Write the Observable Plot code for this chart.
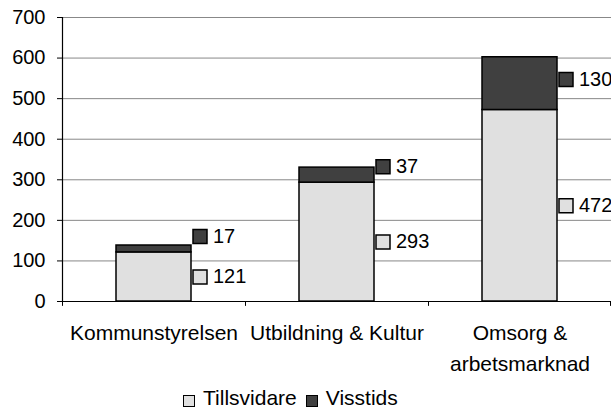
<!DOCTYPE html>
<html><head><meta charset="utf-8">
<script src="https://cdn.jsdelivr.net/npm/d3@7"></script>
<script src="https://cdn.jsdelivr.net/npm/@observablehq/plot@0.6"></script>
<style>
body{margin:0;background:#fff;font-family:"Liberation Sans",Arial,sans-serif;}
#legend{height:29px;line-height:29px;font-size:21px;padding-left:183px;white-space:nowrap;color:#000}
.sw{display:inline-block;width:10px;height:10px;border:1px solid #000;vertical-align:-2px;margin-right:8px}
</style></head><body>
<div id="chart"></div>
<div id="legend"></div>
<script>
const categories = ["Kommunstyrelsen", "Utbildning & Kultur", "Omsorg &\narbetsmarknad"];
const seriesNames = ["Tillsvidare", "Visstids"];
const tillsvidare = [121, 293, 472];
const visstids = [17, 37, 130];
const yTicks = [0, 100, 200, 300, 400, 500, 600, 700];
const colors = ["#e0e0e0", "#404040"];

const rows = [];
const labelRows = [];
categories.forEach((c, i) => {
  rows.push({cat: c, series: seriesNames[0], value: tillsvidare[i]});
  rows.push({cat: c, series: seriesNames[1], value: visstids[i]});
  labelRows.push({cat: c, series: seriesNames[0], value: tillsvidare[i], ly: tillsvidare[i] / 2});
  const mid = tillsvidare[i] + visstids[i] / 2;
  labelRows.push({cat: c, series: seriesNames[1], value: visstids[i], ly: Math.max(mid, tillsvidare[i] + 29) + 10});
});

const half = 91.5;
const chart = Plot.plot({
  width: 611, height: 383,
  marginLeft: 62, marginRight: 0, marginTop: 17, marginBottom: 82,
  style: {fontFamily: "'Liberation Sans', Arial, sans-serif", fontSize: "20px", color: "#000", background: "#fff"},
  x: {domain: categories, padding: 0, axis: null},
  y: {domain: [0, 700], axis: null},
  color: {domain: seriesNames, range: colors},
  marks: [
    Plot.gridY(yTicks, {stroke: "#888", strokeOpacity: 1}),
    Plot.axisY(yTicks, {tickSize: 5, tickPadding: 12, stroke: "#000", fill: "#000", fontSize: 20, label: null, tickFormat: d => String(d)}),
    Plot.barY(rows, {x: "cat", y: "value", fill: "series", stroke: "#000", strokeWidth: 1.5, insetLeft: 54, insetRight: 54}),
    Plot.ruleY([0], {stroke: "#000", strokeWidth: 1.2}),
    Plot.ruleX([categories[0]], {x: d => d, dx: -half, y1: 0, y2: 700, stroke: "#000", strokeWidth: 1.2}),
    Plot.ruleX(categories, {x: d => d, dx: -half, y1: 0, y2: -12, stroke: "#000"}),
    Plot.ruleX([categories[categories.length - 1]], {x: d => d, dx: half - 1, y1: 0, y2: -12, stroke: "#000"}),
    Plot.text(categories, {x: d => d, y: () => 0, text: d => d, dy: 16, lineAnchor: "top", lineHeight: 1.476, fontSize: 21, fill: "#000"}),
    Plot.dot(labelRows, {x: "cat", y: "ly", dx: 46, symbol: "square", r: 7.9, fill: "series", stroke: "#000", strokeWidth: 1.5}),
    Plot.text(labelRows, {x: "cat", y: "ly", text: d => String(d.value), dx: 59, textAnchor: "start", fontSize: 20, fill: "#000"})
  ]
});
document.getElementById("chart").appendChild(chart);

const legend = document.getElementById("legend");
seriesNames.forEach((s, i) => {
  const sw = document.createElement("span");
  sw.className = "sw";
  sw.style.background = colors[i];
  if (i > 0) sw.style.marginLeft = "9px";
  legend.appendChild(sw);
  legend.appendChild(document.createTextNode(s));
});
</script>
</body></html>
